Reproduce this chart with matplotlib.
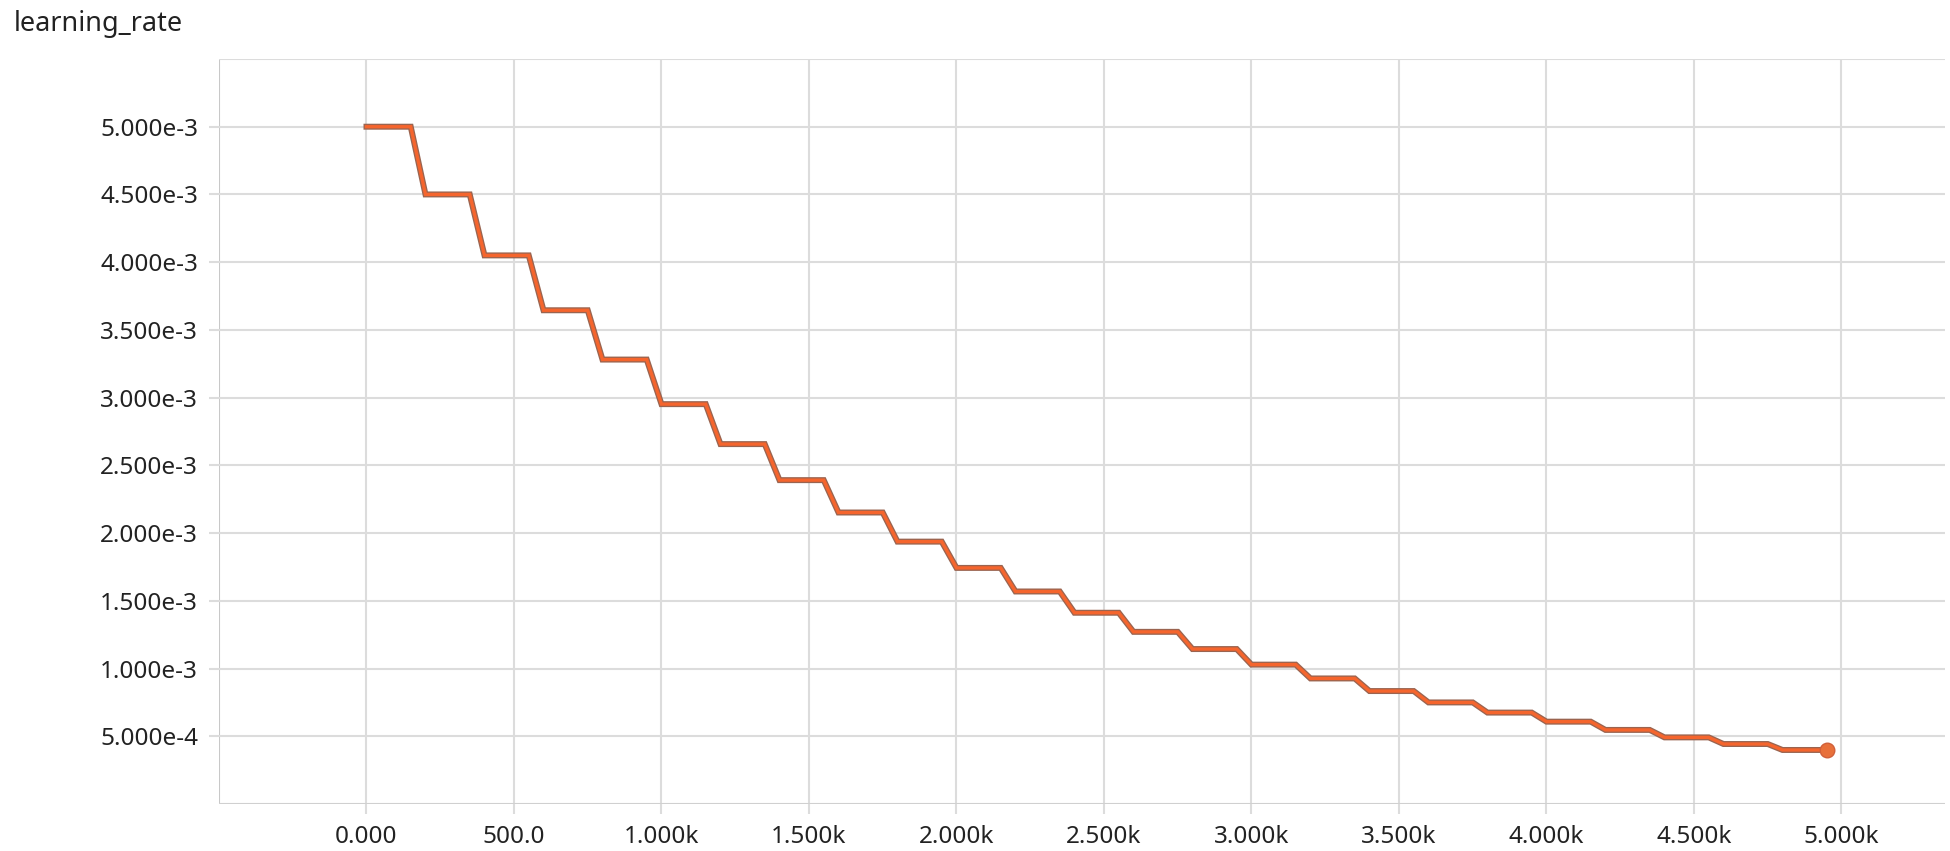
import matplotlib
matplotlib.use("Agg")
import matplotlib.pyplot as plt
from matplotlib.ticker import FixedLocator

# ---- data ----
title = "learning_rate"
plateau_start_steps = [0, 200, 400, 600, 800, 1000, 1200, 1400, 1600, 1800,
                       2000, 2200, 2400, 2600, 2800, 3000, 3200, 3400, 3600,
                       3800, 4000, 4200, 4400, 4600, 4800]
plateau_end_steps = [150, 350, 550, 750, 950, 1150, 1350, 1550, 1750, 1950,
                     2150, 2350, 2550, 2750, 2950, 3150, 3350, 3550, 3750,
                     3950, 4150, 4350, 4550, 4750, 4950]
lr_values = [5.000e-3, 4.500e-3, 4.050e-3, 3.645e-3, 3.281e-3, 2.952e-3,
             2.657e-3, 2.391e-3, 2.152e-3, 1.937e-3, 1.743e-3, 1.569e-3,
             1.412e-3, 1.271e-3, 1.144e-3, 1.029e-3, 0.927e-3, 0.834e-3,
             0.750e-3, 0.675e-3, 0.608e-3, 0.547e-3, 0.492e-3, 0.443e-3,
             0.399e-3]
x_ticks = [0, 500, 1000, 1500, 2000, 2500, 3000, 3500, 4000, 4500, 5000]
x_tick_labels = ["0.000", "500.0", "1.000k", "1.500k", "2.000k", "2.500k",
                 "3.000k", "3.500k", "4.000k", "4.500k", "5.000k"]
y_ticks = [5e-4, 1e-3, 1.5e-3, 2e-3, 2.5e-3, 3e-3, 3.5e-3, 4e-3, 4.5e-3, 5e-3]
y_tick_labels = ["5.000e-4", "1.000e-3", "1.500e-3", "2.000e-3", "2.500e-3",
                 "3.000e-3", "3.500e-3", "4.000e-3", "4.500e-3", "5.000e-3"]

# build the polyline from plateaus
xs, ys = [], []
for s, e, v in zip(plateau_start_steps, plateau_end_steps, lr_values):
    xs += [s, e]
    ys += [v, v]

plt.rcParams['font.family'] = ['Noto Sans', 'DejaVu Sans']

fig = plt.figure(figsize=(19.5, 8.51), dpi=100)
ax = fig.add_axes([0.1123, 0.0552, 0.885, 0.8755])

grid_c = '#dcdcdc'
ax.set_xlim(-500, 5350)
ax.set_ylim(0, 5.5e-3)

# grid lines
for gx in [-500] + x_ticks:
    ax.axvline(gx, color=grid_c if gx != -500 else '#c8c8c8', lw=1.5, zorder=0)
for gy in [0] + y_ticks + [5.5e-3]:
    ax.axhline(gy, color=grid_c if gy != 0 else '#d0d0d0', lw=1.5, zorder=0)

for sp in ax.spines.values():
    sp.set_visible(False)

ax.yaxis.set_major_locator(FixedLocator(y_ticks))
ax.set_yticks(y_ticks)
ax.set_yticklabels(y_tick_labels)
ax.set_xticks(x_ticks)
ax.set_xticklabels(x_tick_labels)
ax.tick_params(axis='both', length=7, width=1.5, color=grid_c,
               labelsize=17.5, labelcolor='#222222', pad=8)

# line: darker raw line under orange smoothed line
ax.plot(xs, ys, color='#9a6450', lw=4.3, solid_joinstyle='miter', zorder=3)
ax.plot(xs, ys, color='#f5652d', lw=2.4, solid_joinstyle='miter', zorder=4)
ax.plot([xs[-1]], [ys[-1]], 'o', color='#e8703a', markersize=10.5,
        markeredgecolor='#d0603a', zorder=5)

fig.text(0.007, 0.972, title, fontsize=19.5, color='#222222',
         ha='left', va='center')

fig.savefig('out.png', dpi=100, facecolor='white')
